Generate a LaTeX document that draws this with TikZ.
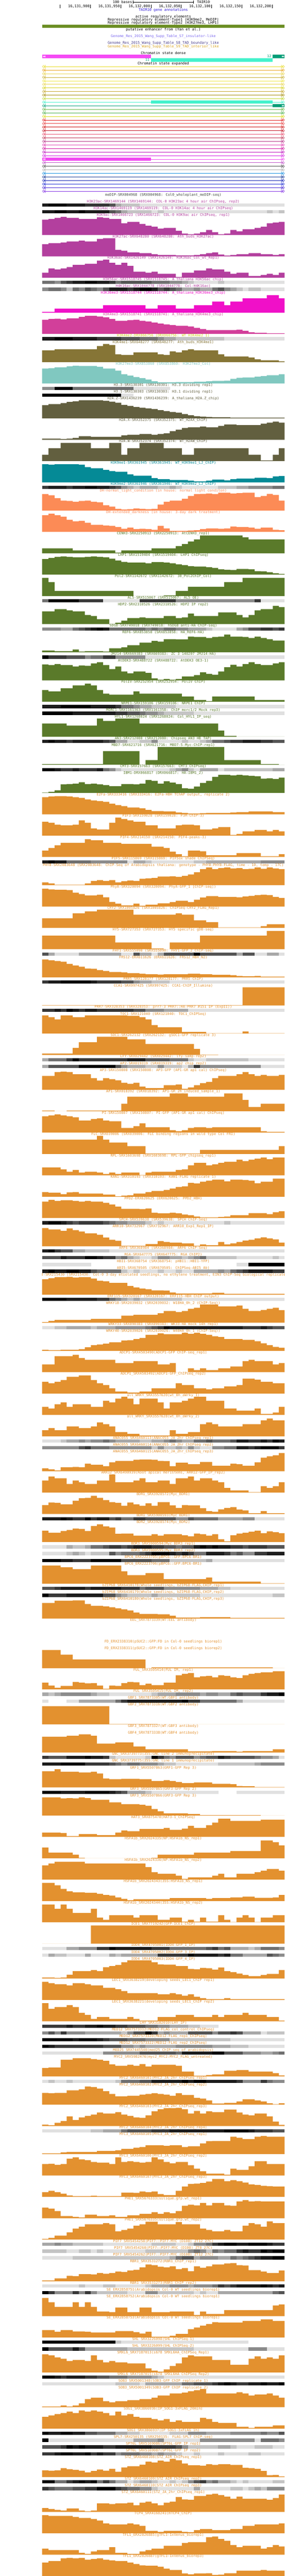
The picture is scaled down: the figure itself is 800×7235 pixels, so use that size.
\documentclass[tikz,border=0pt]{standalone}
\usepackage{fontspec}
\newfontfamily\ucsc{DejaVu Sans Mono}
\definecolor{cAC}{HTML}{B33F9E}
\definecolor{cKtsm}{HTML}{F010C8}
\definecolor{cKfmt}{HTML}{D23F9A}
\definecolor{cKfmw}{HTML}{D2CE1E}
\definecolor{cKfmo}{HTML}{867536}
\definecolor{cKts}{HTML}{80C8C0}
\definecolor{cHV}{HTML}{625F3F}
\definecolor{cKnine}{HTML}{058A96}
\definecolor{cDH}{HTML}{FC8B56}
\definecolor{cGR}{HTML}{5A7A2A}
\definecolor{cOR}{HTML}{E3912F}
\definecolor{cME}{HTML}{404840}
\definecolor{cTAIR}{HTML}{2A14D6}
\definecolor{cSseven}{HTML}{7B68EE}
\definecolor{cSeight}{HTML}{483D8B}
\definecolor{cSnine}{HTML}{DAA520}
\definecolor{cOlive}{HTML}{6B8E23}
\definecolor{cPink}{HTML}{F54AF5}
\definecolor{cAqua}{HTML}{44F2CC}
\definecolor{cTeal}{HTML}{009E78}
\definecolor{dg1}{HTML}{E0E0E0}
\definecolor{dg2}{HTML}{C4C4C4}
\definecolor{dg3}{HTML}{A8A8A8}
\definecolor{dg4}{HTML}{8C8C8C}
\definecolor{dg5}{HTML}{707070}
\definecolor{dg6}{HTML}{545454}
\definecolor{dg7}{HTML}{383838}
\definecolor{dg8}{HTML}{1C1C1C}
\definecolor{dg9}{HTML}{000000}
\definecolor{ch1}{HTML}{E8DC28}
\definecolor{ch2}{HTML}{E8A21E}
\definecolor{ch3}{HTML}{E8D44A}
\definecolor{ch4}{HTML}{C8AE30}
\definecolor{ch5}{HTML}{EEE646}
\definecolor{ch6}{HTML}{E8D64E}
\definecolor{ch7}{HTML}{D6D21E}
\definecolor{ch8}{HTML}{C6A62A}
\definecolor{ch9}{HTML}{A68E10}
\definecolor{ch10}{HTML}{C2D836}
\definecolor{ch11}{HTML}{44F2CC}
\definecolor{ch12}{HTML}{009E78}
\definecolor{ch13}{HTML}{6CBA4C}
\definecolor{ch14}{HTML}{4CB04C}
\definecolor{ch15}{HTML}{D8D814}
\definecolor{ch16}{HTML}{E01E1E}
\definecolor{ch17}{HTML}{E84444}
\definecolor{ch18}{HTML}{D01414}
\definecolor{ch19}{HTML}{C41424}
\definecolor{ch20}{HTML}{E85070}
\definecolor{ch21}{HTML}{C03454}
\definecolor{ch22}{HTML}{B83488}
\definecolor{ch23}{HTML}{E040B4}
\definecolor{ch24}{HTML}{D010A0}
\definecolor{ch25}{HTML}{C014C0}
\definecolor{ch26}{HTML}{D426E4}
\definecolor{ch27}{HTML}{F24AF2}
\definecolor{ch28}{HTML}{C050C8}
\definecolor{ch29}{HTML}{505050}
\definecolor{ch30}{HTML}{B0B0B0}
\definecolor{ch31}{HTML}{1890E0}
\definecolor{ch32}{HTML}{103494}
\definecolor{ch33}{HTML}{1424B4}
\definecolor{ch34}{HTML}{2030D4}
\definecolor{ch35}{HTML}{4424D4}
\definecolor{ch36}{HTML}{8434E4}
\pgfmathdeclarefunction{ex}{1}{\pgfmathparse{min(799,118+18.2*min(#1,1)+17.02*max(#1-1,0))}}
\newcount\ypos
\tikzset{lab/.style={font=\ucsc\fontsize{9.97}{10}\selectfont, inner sep=0pt, anchor=base}}
\newcommand\GT[3]{%
 \node[lab,text=#2] at (458.5,\the\ypos+3.6) {#1};%
 \fill[#2] (118,\the\ypos+56) \foreach \h [count=\j from 0] in {#3} {-- ({ex(\j)},\the\ypos+56-\h) -- ({ex(\j+1)},\the\ypos+56-\h)} -- (799,\the\ypos+56) -- cycle;%
 \global\advance\ypos by 60\relax}
\newcommand\DT[3]{%
 \node[lab,text=#2] at (458.5,\the\ypos+3.6) {#1};%
 \foreach \g [count=\j from 0] in {#3} {\ifnum\g>0 \fill[dg\g] ({ex(\j)},\the\ypos+5) rectangle ({ex(\j+1)+0.3},\the\ypos+14);\fi}%
 \global\advance\ypos by 19\relax}
\newcommand\ET[3]{%
 \node[lab,text=#2] at (458.5,\the\ypos+3.6) {#1};%
 \global\advance\ypos by #3\relax}
\catcode`\_=12
\begin{document}
\begin{tikzpicture}[x=1pt,y=-1pt]
\useasboundingbox (0,0) rectangle (800,7235);
\fill[white] (0,0) rectangle (800,7235);
\clip (118,0) rectangle (800,7235);
% scale row
\node[lab,anchor=base east] at (371,9.6) {100 bases};
\draw[line width=1pt] (374,6) -- (543,6) (374,2) -- (374,10.5) (543,2) -- (543,10.5);
\node[lab,anchor=base west] at (553,9.6) {TAIR10};
% coordinates
\foreach \x in {169,254,339,424,509,594,679,764} {\draw[line width=1pt] (\x,13.5) -- (\x,22.5);}
\foreach \x/\t in {254/{16,131,900},339/{16,131,950},424/{16,132,000},509/{16,132,050},594/{16,132,100},679/{16,132,150},764/{16,132,200}} {\node[lab,anchor=base east] at (\x-2.5,21.6) {\t};}
\node[lab,text=cTAIR] at (458.5,30.6) {TAIR10 gene annotations};
\node[lab] at (458.5,49.6) {active regulatory elements};
\node[lab] at (458.5,58.3) {Repressive regulatory element-Type1 (H3K9me2, MeDIP)};
\node[lab] at (458.5,67.3) {Repressive regulatory element-Type2 (H3K27me3, LHP1)};
\fill[cOlive] (118,69) rectangle (799,78);
\node[lab] at (458.5,86.6) {putative enhancer from (Yan et al.)};
\node[lab,text=cSseven] at (458.5,105.3) {Genome_Res_2015_Wang_Supp_Table_S7_insulator-like};
\node[lab,text=cSeight] at (458.5,124.3) {Genome_Res_2015_Wang_Supp_Table_S8_TAD_boundary_like};
\node[lab,text=cSnine] at (458.5,133.6) {Genome_Res_2015_Wang_Supp_Table_S9_TAD_interior_like};
\node[lab] at (458.5,152.6) {Chromatin state dense};
\fill[cPink] (118,154) rectangle (424,163);
\fill[cTeal] (765,154) rectangle (799,163);
\fill[cAqua] (424,164) rectangle (765,173);
\node[lab,text=cTeal,anchor=base east] at (762,162) {12};
\node[lab,text=cTeal,anchor=base east] at (420,172) {11};
\fill[white] (123.5,156) -- (120.5,158.5) -- (123.5,161) -- cycle (127,156) -- (124,158.5) -- (127,161) -- cycle;
\fill[white] (791.5,156) -- (794.5,158.5) -- (791.5,161) -- cycle (795,156) -- (798,158.5) -- (795,161) -- cycle;
\node[lab] at (458.5,181.6) {Chromatin state expanded};
% expanded lines
\foreach \k in {1,...,36} {
 \pgfmathsetmacro\yy{177+10*\k}
 \draw[ch\k, line width=1pt] (124,\yy) -- (794,\yy);
 \draw[ch\k, line width=0.7pt] (123,\yy-4) -- (118.6,\yy) -- (123,\yy+4) -- cycle (127.5,\yy-4) -- (123.1,\yy) -- (127.5,\yy+4) -- cycle;
 \draw[ch\k, line width=0.7pt] (794.5,\yy-4) -- (798.9,\yy) -- (794.5,\yy+4) -- cycle (790,\yy-4) -- (794.4,\yy) -- (790,\yy+4) -- cycle;
}
\fill[ch11] (424,282.5) rectangle (765,291.5);
\fill[ch12] (765,292.5) rectangle (799,301.5);
\fill[white] (791.5,294.5) -- (794.5,297) -- (791.5,299.5) -- cycle (795,294.5) -- (798,297) -- (795,299.5) -- cycle;
\fill[ch27] (118,442.5) rectangle (424,451.5);
\fill[white] (123.5,444.5) -- (120.5,447) -- (123.5,449.5) -- cycle (127,444.5) -- (124,447) -- (127,449.5) -- cycle;
% tracks
\global\ypos=547
\ET{meDIP-SRX004968 (SRX004968: Col0_wholeplant_meDIP-seq)}{cME}{19}
\DT{H3K23ac-SRX1469144 (SRX1469144: COL-0 H3K23ac 4 hour air ChIPseq, rep2)}{cAC}{8,9,9,9,8,8,8,7,7,7,7,6,3,2,2,2,1,1,1,1,1,1,1,1,1,1,1,1,1,1,1,1,1,1,1,1,1,1,1,1}
\DT{H3K14ac-SRX1469119 (SRX1469119: COL-0 H3K14ac 4 hour air ChIPseq)}{cAC}{8,8,9,9,8,8,9,8,8,8,8,6,5,3,2,2,2,2,1,2,1,1,1,1,1,1,1,1,1,1,1,1,1,1,1,1,1,2,1,2}
\GT{H3K9ac-SRX1466723 (SRX1466723: COL-0 H3K9ac air ChIPseq, rep1)}{cAC}{43,45,48,51,48,48,45,45,45,50,48,45,45,33,37,37,31,26,23,18,20,20,12,4,2,4,8,14,8,2,4,14,10,16,16,20,23,33,35,37}
\GT{H3K27ac-SRX648280 (SRX648280: Ath_buds_H3K27ac)}{cAC}{34,37,37,39,42,42,44,42,42,49,51,51,18,16,11,11,9,9,6,4,4,4,3,3,3,4,6,9,11,5,2,4,6,6,9,9,6,6,4,6}
\GT{H3K36ac-SRX1426149 (SRX1426149: H3K36ac_Col_wt_Rep1)}{cAC}{14,26,23,26,30,36,36,39,39,48,51,42,36,42,33,17,17,14,17,11,11,11,2,14,14,20,20,26,23,23,17,11,14,14,5,5,8,11,8,14}
\DT{H3K56ac-SRX1518745 (SRX1518745: A_thaliana_H3K56ac_chip)}{cAC}{5,5,4,6,7,8,8,9,9,8,8,7,5,6,6,6,6,6,5,5,5,4,4,3,2,1,1,1,1,2,1,1,1,1,1,1,1,1,1,1}
\DT{H4K16ac-SRX1044778 (SRX1044778: Col-H4K16ac)}{cAC}{4,5,5,4,2,5,4,6,5,4,6,8,8,8,7,8,9,9,8,6,7,6,5,3,3,4,3,3,5,6,4,3,2,1,2,2,1,1,1,1}
\GT{H3K36me3-SRX1518744 (SRX1518744: A_thaliana_H3K36me3_chip)}{cKtsm}{2,2,11,11,11,11,11,11,11,11,21,21,21,21,21,21,21,11,11,21,21,21,11,11,11,21,21,21,31,31,21,31,31,40,40,40,40,49,49,40}
\GT{H3K4me3-SRX1518741 (SRX1518741: A_thaliana_H3K4me3_chip)}{cKfmt}{40,42,43,41,44,44,48,51,51,49,47,42,37,37,39,40,37,35,32,29,27,25,23,23,21,17,14,11,11,11,11,11,12,9,5,3,3,2,2,2}
\DT{H3K4me2-DRX066756 (DRX066756: WT_H3K4me2_1)}{cKfmw}{8,8,9,9,9,8,8,8,8,7,7,7,7,6,6,6,5,5,5,4,3,3,2,2,2,2,2,2,2,2,1,1,1,1,1,1,1,1,1,1}
\GT{H3K4me1-SRX648277 (SRX648277: Ath_buds_H3K4me1)}{cKfmo}{33,33,36,36,36,36,36,36,36,45,51,48,22,20,20,27,27,27,27,22,20,30,27,33,36,33,33,33,33,22,16,16,16,16,13,8,5,5,5,2}
\GT{H3K27me3-SRX853860 (SRX853860: H3K27me3_Col)}{cKts}{42,43,45,45,48,50,49,49,49,47,42,42,36,26,22,18,15,11,6,3,3,3,4,4,4,5,5,6,7,7,8,13,16,17,17,19,21,23,23,26}
\DT{H3.3-SRX130301 (SRX130301: H3.3 dividing rep1)}{cHV}{4,4,9,9,9,5,5,5,5,5,5,5,5,5,5,1,1,1,1,1,1,0,0,0,0,0,0,0,0,0,0,0,0,0,0,0,0,0,0,0}
\DT{H3.1-SRX130303 (SRX130303: H3.1 dividing rep1)}{cHV}{9,9,9,9,9,9,9,9,9,9,9,9,9,1,1,0,0,0,0,0,0,0,0,0,0,0,0,0,0,0,0,0,0,0,0,0,0,0,0,0}
\GT{H2A.Z-SRX1436239 (SRX1436239: A_thaliana_H2A.Z_chip)}{cHV}{37,40,40,43,46,48,51,51,51,51,49,47,44,38,35,32,30,28,26,23,20,18,16,12,9,6,5,4,3,3,3,2,2,2,2,2,2,2,2,2}
\GT{H2A.X-SRX352375 (SRX352375: WT_H2AX_ChIP)}{cHV}{3,3,3,2,3,5,10,10,8,8,8,8,8,12,14,14,16,16,14,16,18,24,28,33,35,35,37,35,35,39,43,43,41,41,41,41,45,48,51,48}
\GT{H2A.W-SRX352374 (SRX352374: WT_H2AW_ChIP)}{cHV}{18,36,36,51,51,51,51,51,36,36,36,51,51,18,36,36,51,51,51,51,36,36,36,18,18,36,36,36,36,36,36,36,36,36,18,18,2,2,18,36}
\GT{H3K9me1-SRX361945 (SRX361945: WT_H3K9me1_LJ_ChIP)}{cKnine}{51,50,51,51,51,51,50,43,40,40,35,32,30,30,23,19,19,19,12,9,9,7,7,7,5,3,3,5,8,8,6,9,11,11,11,13,13,12,17,18}
\DT{H3K9me2-SRX361946 (SRX361946: WT_H3K9me2_LJ_ChIP)}{cKnine}{7,8,8,8,7,8,8,9,9,8,8,7,6,4,3,2,3,3,3,2,2,3,2,1,1,1,1,1,1,2,2,2,3,3,4,4,4,4,5,5}
\GT{DH-normal_light_condition (in house: normal light conditon)}{cDH}{46,43,35,28,27,25,27,28,25,23,15,11,5,3,4,6,5,4,5,17,25,28,28,33,41,46,47,48,46,50,50,48,49,50,50,38,41,47,44,28}
\GT{DH-extended_darkness (in house: 3-day dark treatment)}{cDH}{47,51,47,43,34,30,31,26,20,20,18,17,14,9,12,8,9,8,6,17,10,3,3,3,4,5,8,10,10,9,10,15,14,14,12,9,12,12,6,5}
\GT{CENH3-SRX2250913 (SRX2250913: AtCENH3_rep1)}{cGR}{14,14,14,14,14,8,8,8,8,8,8,8,2,8,8,8,8,8,14,14,14,14,20,26,33,39,50,50,50,50,50,50,50,45,39,39,39,39,39,39}
\GT{LHP1-SRX1519404 (SRX1519404: LHP1 ChIPseq)}{cGR}{44,47,50,51,50,49,49,50,51,50,49,45,40,36,34,34,34,32,35,35,34,32,29,27,24,23,23,21,19,15,14,13,16,16,15,10,9,7,4,2}
\GT{Pol2-SRX1142672 (SRX1142672: 30_Pol2ChIP_Col)}{cGR}{51,39,14,14,14,14,14,14,14,14,14,14,14,14,14,0,0,0,0,0,2,2,14,14,26,26,26,26,26,26,39,39,39,51,51,51,51,51,51,51}
\DT{AL5-SRX515067 (SRX515067: AL5_OE)}{cGR}{5,9,9,9,9,9,7,7,7,7,1,1,1,1,1,1,7,7,7,7,7,7,4,4,4,4,4,4,4,4,4,4,4,4,4,7,1,1,1,1}
\GT{HDP2-SRX2310526 (SRX2310526: HDP2 IP rep2)}{cGR}{36,36,42,42,39,36,36,26,23,14,14,1,4,10,17,17,19,17,17,17,23,23,17,19,30,23,23,23,23,33,33,33,26,19,26,39,42,42,51,48}
\DT{SDG8-SRX749018 (SRX749018: hSDG8 anti-HA ChIP-seq)}{cGR}{4,4,4,3,3,5,6,7,8,9,8,5,5,5,5,5,5,4,5,4,5,5,4,4,3,3,3,2,1,1,1,1,3,4,6,6,7,7,6,7}
\GT{REF6-SRX853858 (SRX853858: HA_REF6-HA)}{cGR}{5,5,3,3,3,8,2,3,3,3,2,11,11,14,20,20,27,27,32,30,37,37,36,36,44,43,43,40,43,44,50,44,44,43,40,44,40,37,33,33}
\DT{JMJ14-SRX669383 (SRX669383: ZC_3_140207 JMJ14-HA)}{cGR}{9,7,7,7,6,6,6,4,5,5,7,7,4,4,4,4,4,1,1,1,1,1,1,1,1,1,1,1,1,1,1,1,1,1,1,1,1,1,1,1}
\GT{AtDEK3-SRX488722 (SRX488722: AtDEK3 OE3-1)}{cGR}{45,43,46,43,43,39,42,41,48,51,43,32,39,25,20,25,25,21,6,2,4,2,4,11,11,15,23,18,16,25,37,44,39,46,51,46,43,43,48,51}
\GT{PolIV-SRX252954 (SRX252954: PolIV ChIP)}{cGR}{33,29,29,38,38,46,46,51,46,33,23,20,20,20,20,29,23,23,23,23,23,23,23,15,15,5,5,2,15,15,15,15,15,15,15,5,5,5,5,5}
\DT{NRPE1-SRX159106 (SRX159106: NRPE1 ChIP)}{cGR}{8,8,8,9,9,9,9,9,8,8,8,8,7,5,5,4,3,3,2,2,2,2,1,1,1,1,1,1,1,1,1,1,1,1,1,1,1,1,1,1}
\DT{MORC1-SRX1161363 (SRX1161358: ChIP_morc1/2_Mock_rep3)}{cGR}{9,9,9,9,9,8,8,8,8,8,8,8,7,7,6,6,5,4,4,3,2,2,2,2,2,1,1,1,1,1,1,1,1,1,1,1,1,1,1,1}
\GT{HYL1-SRX1268024 (SRX1268024: Col_HYL1_IP_seq)}{cGR}{37,37,37,37,31,31,31,31,31,51,44,44,51,51,51,51,37,37,37,37,37,37,37,37,37,37,37,37,37,17,2,2,0,0,0,0,0,0,0,0}
\DT{AN3-SRX212080 (SRX212080: Chipseq AN3 HB TAP)}{cGR}{8,9,8,8,7,8,8,8,8,8,7,6,3,3,1,1,2,2,4,1,1,1,1,2,1,1,2,3,5,5,6,7,7,8,8,8,7,7,6,6}
\GT{MBD7-SRX621716 (SRX621716: MBD7-5-Myc-ChIP-rep1)}{cGR}{2,2,2,2,2,2,2,2,2,2,38,38,38,38,38,38,0,13,13,50,50,50,50,50,50,50,50,50,50,50,13,13,13,13,13,13,2,2,2,0}
\DT{CMT3-SRX157663 (SRX157663: CMT3_ChIPseq)}{cGR}{9,9,8,7,7,8,7,7,7,8,5,4,2,1,1,1,1,1,1,1,1,2,3,4,2,1,3,3,3,1,2,2,2,2,2,2,2,2,3,3}
\GT{IBM1-DRX066817 (DRX066817: HA-IBM1_2)}{cGR}{1,3,7,24,25,26,30,25,26,24,22,19,19,25,25,24,26,36,34,26,33,29,25,13,12,18,28,34,45,51,51,49,51,49,48,47,40,41,39,43}
\GT{E2Fa-SRX333416 (SRX333416: E2Fa-HBH TChAP output, replicate 2)}{cOR}{48,50,51,51,50,48,46,42,39,37,35,30,26,23,19,19,17,12,9,9,8,8,5,4,2,2,3,4,4,4,4,5,6,6,8,8,8,8,6,6}
\GT{PIF3-SRX159028 (SRX159028: P3M-ChIP-3)}{cOR}{39,36,31,29,29,31,43,36,20,17,17,36,51,47,43,39,39,29,29,20,20,20,29,31,31,29,17,17,20,24,24,2,5,12,12,16,16,12,16,12}
\GT{PIF4-SRX214150 (SRX214150: PIF4-peaks-3)}{cOR}{18,25,33,40,40,40,40,50,47,47,40,40,40,37,37,37,37,37,29,29,25,15,8,2,18,18,16,5,5,5,5,5,11,11,11,11,2,2,2,8}
\DT{PIF5-SRX115869 (SRX115869: PIF5ox shade ChIPSeq)}{cOR}{8,9,8,8,5,5,5,5,4,4,4,4,4,4,1,3,3,2,1,1,1,1,1,1,1,2,2,3,3,3,3,3,3,3,3,3,4,4,4,4}
\GT{PHYB-SRX2083648 (SRX2083648: ChIP-Seq of Arabidopsis thaliana: genotype - PHYB:PHYB-FLAG, time - 10, temp - 17C)}{cOR}{8,5,1,1,1,1,1,5,12,14,12,14,8,11,13,12,18,19,20,24,24,25,23,26,30,36,45,50,45,48,50,47,48,45,46,50,46,50,47,45}
\GT{PhyA-SRX320094 (SRX320094: PhyA-GFP_1 [ChIP-seq])}{cOR}{50,48,47,47,46,39,35,31,31,33,26,13,8,3,3,8,2,5,5,9,9,12,16,16,12,19,25,29,29,27,27,27,26,28,30,32,33,32,27,24}
\GT{CRY2-SRX1005826 (SRX1005826: ChIPSeq-CRY2_FLAG_Rep1)}{cOR}{27,27,27,27,27,41,41,46,46,51,51,51,51,51,51,37,37,37,37,37,37,37,41,37,37,21,21,16,16,1,1,1,1,1,1,1,5,10,10,10}
\GT{HY5-SRX727353 (SRX727353: HY5 specific gDB-seq)}{cOR}{38,38,38,38,38,38,38,38,38,38,38,38,19,19,19,19,19,19,2,2,0,19,19,19,19,19,38,38,38,38,38,38,38,38,38,38,38,51,51,51}
\DT{FHY1-SRX555090 (SRX555090: FHY1-GFP_2_ChIP-seq)}{cOR}{6,3,1,1,1,1,3,3,3,3,3,3,3,1,1,6,3,3,1,3,6,6,6,6,6,9,6,6,6,6,6,6,3,6,6,1,1,3,3,1}
\GT{FRS12-ERX611626 (ERX611626: FRS12_HBH_N2)}{cOR}{50,48,46,44,38,33,30,25,24,20,18,15,15,14,12,12,10,9,9,8,9,9,9,9,10,10,9,9,7,7,7,6,4,3,3,4,2,2,2,2}
\DT{PRR5-SRX128177 (SRX128177: PRR5-ChIP)}{cOR}{7,8,8,9,9,9,9,9,8,7,7,7,7,6,6,4,3,3,2,2,2,1,1,1,1,1,1,1,1,1,1,1,1,1,1,1,1,1,1,1}
\GT{CCA1-SRX997425 (SRX997425: CCA1-ChIP_Illumina)}{cOR}{1,1,1,1,1,1,1,1,1,1,1,1,1,1,1,1,1,1,1,1,1,1,1,1,1,1,1,1,1,1,1,1,1,51,51,51,51,51,51,51}
\DT{PRR7-SRX328353 (SRX328353: prr7-3 PRR7::HA-PRR7 \#151 IP (ExpII))}{cOR}{7,7,8,7,9,8,7,8,8,7,7,7,7,7,7,6,6,4,4,4,3,3,3,3,1,1,1,1,1,1,1,1,1,1,1,1,1,1,1,1}
\GT{TOC1-SRX121040 (SRX121040: TOC1_ChIPSeq)}{cOR}{51,46,40,51,51,46,46,51,51,51,51,51,51,51,50,50,46,40,24,18,18,18,18,5,5,5,5,1,1,1,1,1,1,6,1,1,1,1,1,1}
\GT{SOC1-SRX262132 (SRX262132: gSOC1-GFP replicate 3)}{cOR}{4,4,4,4,4,20,36,36,36,51,51,51,51,51,44,44,44,31,31,31,31,31,31,31,31,17,1,1,1,0,0,0,0,0,0,0,0,0,0,0}
\DT{LFY-SRX029442 (SRX029442: lfy-samp-rep2)}{cOR}{3,5,5,5,7,9,7,7,7,7,7,7,7,7,8,8,8,6,6,6,6,5,5,5,2,1,1,2,2,2,2,2,2,2,1,1,1,1,1,1}
\DT{AP2-SRX019319 (SRX019319: ap2_chip_rep2)}{cOR}{3,6,6,6,6,6,9,9,9,9,9,9,6,4,3,3,3,2,2,4,2,2,2,1,3,7,4,4,4,4,4,4,4,4,4,4,1,1,1,1}
\GT{AP3-SRX150808 (SRX150808: AP3-GFP (AP1-GR ap1 cal) ChIPseq)}{cOR}{39,39,50,51,50,44,44,44,33,26,33,30,27,20,17,20,9,5,5,5,13,13,15,3,7,13,19,22,33,39,39,39,44,50,44,39,42,39,39,42}
\GT{AP1-SRX018392 (SRX018392: AP1-GR_2h_induced_sample_1)}{cOR}{2,2,0,0,2,2,2,2,2,2,2,2,2,21,41,41,41,41,41,41,41,50,50,50,41,41,41,41,41,41,50,50,50,32,12,12,21,21,21,21}
\GT{PI-SRX150807 (SRX150807: PI-GFP (AP1-GR ap1 cal) ChIPseq)}{cOR}{46,48,51,48,46,43,34,34,38,40,34,32,32,13,13,18,26,15,15,15,15,7,4,7,13,15,15,13,15,15,15,15,15,15,15,15,4,2,2,2}
\GT{FLC-SRX039006 (SRX039006: FLC binding regions in wild type Col FRI)}{cOR}{40,40,40,40,40,40,40,40,40,51,40,32,32,32,22,22,22,1,1,1,1,1,1,1,1,1,11,11,11,11,11,11,11,11,11,11,11,11,11,22}
\GT{RPL-SRX1603698 (SRX1603698: RPL-GFP_chipseq_rep1)}{cOR}{22,22,22,17,10,15,8,10,10,8,4,8,4,8,8,8,1,8,10,10,10,10,15,17,28,35,35,28,31,35,38,38,44,40,44,47,50,45,50,50}
\GT{KAN1-SRX310193 (SRX310193: KAN1-FLAG replicate 1)}{cOR}{13,11,11,7,12,13,9,9,9,9,6,6,1,3,4,9,9,13,16,16,19,23,27,29,39,37,42,45,48,48,43,48,48,47,45,38,42,42,51,51}
\GT{PPD2-ERX620625 (ERX620625: PPD2_HBH)}{cOR}{46,51,48,50,50,48,46,48,46,46,43,38,32,26,26,26,25,27,15,13,13,15,13,10,8,4,2,2,2,3,4,8,8,8,14,14,14,11,16,19}
\DT{SPCH-SRX539638 (SRX539638: SPCH ChIP-Seq)}{cOR}{8,9,9,8,7,6,7,7,7,7,6,5,4,4,3,3,3,2,1,2,1,1,1,1,1,1,1,1,1,1,2,1,1,1,1,1,1,1,1,1}
\GT{ARR10-SRX732967 (SRX732967: ARR10_Exp1_Rep1_IP)}{cOR}{51,47,47,43,50,45,41,36,36,32,24,18,15,1,1,1,1,6,6,14,12,10,10,8,8,1,5,3,3,12,5,8,12,16,18,22,25,22,19,10}
\DT{ARF6-SRX368984 (SRX368984: ARF6 ChIP-Seq)}{cOR}{8,9,7,6,6,3,3,2,2,2,2,1,1,1,1,1,1,1,1,1,1,1,1,1,1,1,1,1,1,1,1,1,1,1,1,1,1,1,1,1}
\DT{RGA-SRX647775 (SRX647775: RGA_ChIP2)}{cOR}{6,6,6,8,7,7,7,9,9,8,7,7,4,5,3,2,1,1,2,4,4,3,3,2,3,4,5,2,2,2,2,2,1,1,1,1,1,1,2,1}
\DT{HBI1-SRX368754 (SRX368754: pHBI1::HBI1-YFP)}{cOR}{1,1,1,1,1,1,1,1,0,0,0,0,0,0,0,0,0,0,0,0,0,0,0,0,0,0,0,0,0,0,0,0,1,1,9,9,9,9,9,9}
\DT{ABI5-SRX670505 (SRX670505: ChIPSeq-ABI5_Ab)}{cOR}{8,9,8,8,9,9,8,8,6,5,5,5,5,2,1,2,1,1,1,2,1,1,2,1,1,3,3,3,3,4,3,5,6,7,8,8,8,8,7,7}
\GT{EIN3-SRX215430 (SRX215430: Col-0 3-day etiolated seedlings, no ethylene treatment, EIN3 ChIP-Seq biological replicate 1)}{cOR}{43,46,49,49,50,48,49,49,45,39,37,33,33,33,24,20,17,15,12,12,11,6,3,3,3,3,3,3,5,5,2,2,2,2,2,2,2,2,2,2}
\DT{ERF115-SRX320167 (SRX320167: ERF115-HBH ChIP output)}{cOR}{9,9,9,9,8,8,8,8,8,7,7,5,4,3,2,3,2,2,2,2,2,2,2,1,1,1,1,1,1,1,1,1,1,1,1,1,1,1,1,1}
\GT{WRKY18-SRX2039032 (SRX2039032: W18HA_0h_2 (ChIP-Seq))}{cOR}{2,5,8,8,8,8,8,8,11,11,11,11,11,20,20,22,22,22,22,27,33,33,30,33,39,42,51,51,51,46,46,46,48,39,33,33,36,39,42,35}
\DT{WRKY33-SRX890383 (SRX890383: WK33-HA mock 14h rep1)}{cOR}{1,1,2,2,3,3,3,3,2,3,3,3,4,4,4,4,4,5,6,7,9,8,8,8,8,8,8,8,8,8,8,8,8,7,7,7,8,7,6,6}
\GT{WRKY40-SRX2039026 (SRX2039026: W40HA_0h_1 (ChIP-Seq))}{cOR}{3,2,2,3,3,3,5,10,16,18,20,24,24,29,30,33,36,45,45,49,47,47,47,51,48,51,48,45,41,39,33,33,33,31,31,27,21,16,11,9}
\GT{ADCP1-SRX4503490(ADCP1-GFP ChIP-seq_rep1)}{cOR}{22,22,45,45,45,49,40,35,35,35,35,35,26,26,26,31,31,31,31,22,22,26,0,0,11,6,11,6,6,11,11,16,16,31,35,31,31,31,22,26}
\GT{ADCP1_SRX4503492(ADCP1-GFP_ChIPseq_rep2)}{cOR}{33,29,33,38,47,47,51,51,38,29,24,15,6,6,3,3,6,6,15,15,15,15,29,24,24,15,15,12,15,15,20,20,24,42,42,39,33,33,29,29}
\GT{all_WRKY_SRX3557620(wt_0h_aWrky_1)}{cOR}{23,18,30,35,23,30,30,30,23,23,40,35,46,51,46,30,46,46,46,35,18,35,35,40,46,51,51,40,40,40,18,18,12,12,12,18,3,3,7,23}
\GT{all_WRKY_SRX3557628(wt_0h_aWrky_2)}{cOR}{17,23,17,17,28,28,23,23,28,39,34,28,12,12,7,7,2,2,2,2,2,17,7,7,12,12,34,39,34,28,28,28,28,34,34,34,45,50,45,45}
\DT{ANAC055_SRX6460113(ANAC055_JA_2hr_ChIPseq_rep1)}{cOR}{1,1,1,2,3,3,4,3,4,4,5,4,3,3,3,3,2,2,3,3,4,5,4,3,3,5,5,6,5,5,5,6,8,8,7,7,8,7,9,8}
\DT{ANAC055_SRX6460114(ANAC055_JA_2hr_ChIPseq_rep2)}{cOR}{4,4,4,4,4,4,6,7,5,5,5,4,4,4,4,4,4,4,2,4,2,2,3,2,4,2,1,1,4,4,5,5,8,8,7,8,9,9,9,7}
\GT{ANAC055_SRX6460115(ANAC055_JA_2hr_ChIPseq_rep3)}{cOR}{8,5,2,11,11,12,11,21,18,18,14,25,29,29,29,32,33,33,32,29,28,14,24,24,20,20,26,26,15,15,15,21,20,15,15,25,38,42,45,51}
\GT{ARR12_SRX6490939(Root apical meristems, ARR12-GFP_IP_rep2)}{cOR}{34,45,40,40,24,34,29,24,24,34,34,51,29,29,29,34,40,29,29,34,34,24,40,40,45,34,40,40,34,29,13,6,6,6,1,1,18,13,18,29}
\GT{BDR1_SRX3928572(Myc_BDR1)}{cOR}{25,32,31,27,27,37,44,45,51,45,39,33,31,23,32,27,23,30,23,33,33,24,17,25,24,24,16,8,6,13,17,19,12,10,2,2,8,2,2,2}
\DT{BDR1_SRX5900593(Myc BDR1)}{cOR}{8,8,8,9,8,7,7,9,7,8,8,6,7,5,5,7,7,6,6,6,6,6,4,4,6,5,5,5,5,3,3,3,3,4,4,1,1,1,1,1}
\GT{BDR2_SRX3928574(Myc_BDR2)}{cOR}{32,26,26,31,34,38,37,31,45,50,44,41,23,24,24,18,18,18,22,18,22,22,22,19,16,24,22,18,22,8,2,19,24,26,29,32,25,30,28,25}
\DT{BDR3_SRX5900594(Myc BDR3 rep1)}{cOR}{1,1,1,1,3,2,2,3,5,5,6,7,7,6,7,8,8,8,7,7,6,6,5,6,6,8,9,8,9,8,8,7,7,6,7,7,7,6,6,6}
\DT{BDR3_SRX5900595(Myc BDR3 rep2)}{cOR}{1,1,1,1,2,3,2,1,2,2,2,6,4,5,5,5,6,7,9,9,9,8,7,8,7,5,5,8,8,8,7,5,6,4,4,7,7,8,8,8}
\DT{BPC6_ERX2223705(pBPC6::GFP:BPC6-BR1)}{cOR}{9,9,9,8,8,7,7,7,9,9,9,9,9,6,6,6,6,6,5,5,5,2,2,2,2,2,2,3,1,1,1,1,1,1,1,1,1,1,1,1}
\GT{BPC6_ERX2223706(pBPC6::GFP:BPC6-BR1)}{cOR}{51,51,51,46,46,41,41,41,51,51,51,51,51,35,24,24,24,30,30,30,13,13,13,13,13,13,13,17,6,6,6,6,6,6,6,6,1,1,1,1}
\DT{bZIP68_SRX6410178(Whole seedlings, bZIP68-FLAG,CHIP,rep1)}{cOR}{6,6,7,8,8,8,8,7,8,8,8,8,8,7,7,7,5,6,6,6,4,4,4,4,4,4,3,3,3,2,2,1,1,1,1,1,1,1,1,1}
\DT{bZIP68_SRX6410179(Whole seedlings, bZIP68-FLAG,CHIP,rep2)}{cOR}{9,7,7,7,8,8,8,8,8,8,6,6,4,3,2,2,2,2,3,2,2,2,2,2,2,2,1,1,1,1,1,1,1,1,1,1,1,1,2,2}
\GT{bZIP68_SRX6410180(Whole seedlings, bZIP68-FLAG,CHIP,rep3)}{cOR}{44,44,50,50,50,51,51,41,36,36,34,32,29,26,23,17,13,13,13,12,12,8,3,3,3,3,4,4,4,4,4,2,2,2,2,2,2,2,2,2}
\ET{EEL_SRX7873339(WT:EEL antibody)}{cOR}{60}
\ET{FD_ERX2338310(pSUC2::GFP:FD in Col-0 seedlings biorep1)}{cOR}{19}
\GT{FD_ERX2338311(pSUC2::GFP:FD in Col-0 seedlings biorep2)}{cOR}{51,51,51,38,38,24,24,24,24,24,24,24,24,24,24,24,24,0,2,2,2,2,2,2,2,2,2,2,2,2,2,2,2,2,2,2,2,2,0,0}
\GT{FUL_SRX3505414(FUL IM, rep1)}{cOR}{19,11,5,10,10,21,19,17,18,11,2,11,10,18,21,20,12,16,12,12,19,19,40,44,46,34,37,38,34,40,38,34,32,40,44,46,48,48,51,51}
\DT{FUL_SRX3505415(FUL IM, rep2)}{cOR}{3,2,3,4,4,4,4,4,3,2,2,1,1,1,1,1,1,1,2,3,3,3,4,4,4,4,3,4,4,3,3,5,6,5,5,5,7,8,8,9}
\DT{GBF1_SRX7873305(WT:GBF1 antibody)}{cOR}{1,0,0,0,1,1,3,3,3,3,3,3,5,7,8,8,8,8,8,8,8,8,8,9,7,7,5,5,5,5,5,5,3,1,1,1,1,1,1,1}
\GT{GBF2_SRX7873316(WT:GBF2 antibody)}{cOR}{51,51,51,51,51,51,51,51,51,51,51,1,1,1,1,1,1,1,1,0,0,0,0,0,0,0,0,0,0,0,0,0,0,0,0,0,0,0,0,0}
\ET{GBF3_SRX7873327(WT:GBF3 antibody)}{cOR}{19}
\GT{GBF4_SRX7873338(WT:GBF4 antibody)}{cOR}{44,44,44,44,47,47,51,51,47,25,25,25,28,28,28,17,17,9,9,9,9,9,9,9,3,3,3,3,4,4,4,4,2,4,4,4,4,4,9,9}
\DT{GNC_SRX3739773(35S:GNC line 2 immunoprecipitate)}{cOR}{7,6,6,6,8,8,8,9,8,8,7,2,1,1,1,1,1,2,9,7,5,4,6,6,6,4,5,6,6,8,7,6,6,6,6,5,4,4,3,1}
\DT{GNC_SRX3739775(35S:GNC line 1 immunoprecipitate)}{cOR}{8,8,8,9,9,9,9,7,7,7,7,6,5,4,5,5,4,4,4,3,2,2,1,1,1,1,1,1,1,2,2,2,2,2,2,3,4,4,4,4}
\GT{GRF1_SRX5507863(GRF1-GFP Rep 3)}{cOR}{45,45,51,44,44,44,42,42,44,39,25,23,23,24,24,24,23,23,18,18,20,18,15,12,12,14,14,14,10,10,10,9,4,3,3,1,1,1,1,1}
\DT{GRF3_SRX5507865(GRF3-GFP Rep 2)}{cOR}{9,9,9,8,8,8,8,9,9,9,9,8,7,6,3,3,3,2,1,1,1,1,1,1,1,1,1,1,1,0,0,0,1,1,1,1,1,1,1,1}
\GT{GRF3_SRX5507866(GRF3-GFP Rep 3)}{cOR}{51,51,51,48,49,48,51,49,44,44,44,37,37,32,32,32,30,27,18,12,6,6,6,6,4,4,1,1,1,1,1,1,1,1,1,1,0,0,0,0}
\GT{HAT3_SRX875470(HAT3-1_ChIPSeq)}{cOR}{12,12,12,11,2,2,8,8,8,5,5,5,12,18,16,16,22,22,22,22,25,20,20,23,31,25,25,33,40,51,51,45,45,45,45,45,48,48,48,48}
\GT{HSFA1b_SRX2024335(NP:HSFA1b_NS_rep1)}{cOR}{30,16,16,16,16,10,1,0,0,0,0,0,0,0,0,0,0,0,1,10,10,10,10,10,10,16,16,16,16,16,16,20,20,20,20,20,50,50,45,36}
\GT{HSFA1b_SRX2024336(NP:HSFA1b_NS_rep2)}{cOR}{40,45,50,50,50,50,50,45,45,45,45,45,45,45,45,45,45,35,21,16,16,16,11,2,6,6,6,6,11,16,6,6,16,16,16,21,25,30,30,25}
\GT{HSFA1b_SRX2024343(35S:HSFA1b_NS_rep1)}{cOR}{51,51,44,34,27,24,24,23,23,20,17,15,10,6,2,5,5,5,5,5,5,8,8,8,8,8,8,6,8,8,8,10,10,12,12,9,9,9,10,17}
\GT{HSFA1b_SRX2024344(35S:HSFA1b_NS_rep2)}{cOR}{50,50,38,50,38,26,26,26,38,13,7,20,20,20,20,13,20,20,20,7,7,13,13,2,7,2,13,2,2,20,7,1,13,20,13,1,13,13,20,20}
\GT{ICE1_SRX7719242(GFP-ICE1_ChIP)}{cOR}{0,0,0,0,0,0,0,0,51,51,51,51,51,51,51,51,51,51,51,51,51,51,51,51,51,51,51,51,51,51,51,51,51,51,51,51,51,51,51,51}
\DT{IDD4_SRX4705001(IDD4-GFP_1_IP)}{cOR}{1,1,1,1,3,3,4,4,4,7,7,9,8,8,8,8,8,8,7,7,7,5,5,5,5,5,5,6,7,5,6,3,3,3,2,3,5,5,5,4}
\DT{IDD4_SRX4705002(IDD4-GFP_3_IP)}{cOR}{1,3,2,2,1,1,1,3,1,1,1,3,2,3,3,3,3,3,3,7,7,7,7,7,9,8,8,8,8,7,8,5,5,3,3,3,3,6,5,4}
\GT{IDD4_SRX4705003(IDD4-GFP_4_IP)}{cOR}{3,3,2,3,11,21,21,21,24,21,32,35,38,46,51,51,51,51,46,40,39,39,35,35,27,26,30,29,25,31,21,18,14,10,7,7,10,13,13,24}
\GT{LEC1_SRX3638219(developing seeds_LEC1_ChIP rep1)}{cOR}{51,47,44,44,41,47,47,44,41,41,34,34,30,25,19,19,19,19,19,16,16,19,16,12,16,9,5,2,2,2,5,2,2,2,2,2,2,2,2,2}
\GT{LEC1_SRX3638221(developing seeds_LEC1_ChIP rep2)}{cOR}{51,35,40,40,45,40,24,18,7,12,12,7,7,7,12,7,2,2,2,12,12,12,18,18,18,12,12,12,18,12,18,18,18,24,18,18,18,12,12,2}
\DT{LHY_SRX3182010(LHY_IP)}{cOR}{7,7,7,7,8,7,7,8,8,9,8,8,7,7,6,6,6,5,5,4,4,3,3,3,2,2,1,1,1,0,0,0,0,0,0,0,0,0,0,0}
\DT{MED12_SRX7573312(MED12-FLAG_col_control_ChIPseq)}{cOR}{4,6,4,7,4,4,4,3,3,3,3,3,3,2,4,6,6,9,7,3,4,3,3,3,6,6,6,6,4,6,6,7,6,3,3,3,1,2,2,2}
\DT{MED12_SRX7573320(MED12-FLAG_rep1_ChIPseq)}{cOR}{9,9,9,9,9,8,9,9,9,8,7,6,6,6,5,5,5,4,4,4,4,2,2,2,2,2,2,2,2,2,2,1,1,1,1,1,1,1,1,1}
\DT{MED12_SRX7573322(MED12-FLAG_rep2_ChIPseq)}{cOR}{9,8,7,7,7,7,7,7,7,7,6,6,6,4,4,3,4,3,3,3,3,3,4,4,4,4,4,4,3,3,3,2,2,2,1,1,1,1,1,1}
\DT{MED25_SRX7445540(med25 ChIP-seq of arabidopsis)}{cOR}{1,1,1,1,1,1,1,1,1,1,4,4,4,4,4,4,6,6,6,6,6,6,5,8,8,8,8,8,9,9,6,6,6,4,4,4,3,3,4,5}
\GT{MYC2_SRX5982476(myc2_MYC2:MYC2_FLAG_untreated)}{cOR}{24,25,25,47,47,51,51,51,49,47,44,34,30,30,33,30,35,28,33,33,33,33,30,14,14,2,2,4,6,6,16,16,18,18,14,14,14,14,9,3}
\DT{MYC2_SRX6460101(MYC2_JA_2hr_ChIPseq_rep1)}{cOR}{1,2,1,1,2,1,1,1,1,1,1,1,2,5,5,5,6,6,8,8,8,8,8,9,8,9,9,8,8,8,8,8,7,4,4,4,7,5,4,4}
\GT{MYC2_SRX6460102(MYC2_JA_2hr_ChIPseq_rep2)}{cOR}{33,32,33,33,40,40,43,51,49,45,38,30,23,23,25,25,28,30,32,30,28,25,32,27,27,19,17,12,3,3,5,5,9,15,15,12,9,4,1,4}
\GT{MYC2_SRX6460103(MYC2_JA_2hr_ChIPseq_rep3)}{cOR}{4,2,9,14,27,17,24,28,32,38,35,35,39,32,28,24,23,30,41,47,50,50,51,47,35,42,35,41,39,39,46,46,38,32,30,35,35,27,12,3}
\DT{MYC2_SRX6460104(MYC2_JA_2hr_ChIPseq_rep4)}{cOR}{1,1,1,1,1,1,1,1,2,2,3,3,3,5,6,6,6,6,7,7,7,8,8,8,8,8,8,8,8,8,9,9,9,9,8,7,7,7,6,6}
\GT{MYC3_SRX6460105(MYC3_JA_2hr_ChIPseq_rep1)}{cOR}{2,2,2,5,6,6,6,6,6,9,9,9,11,15,15,18,20,25,25,25,23,25,25,20,22,22,30,36,37,37,37,49,46,42,42,49,51,49,49,49}
\GT{MYC3_SRX6460106(MYC3_JA_2hr_ChIPseq_rep2)}{cOR}{32,33,30,32,47,51,45,43,38,36,36,32,51,38,40,38,36,38,51,45,38,34,38,38,29,19,12,5,5,5,2,19,16,16,26,40,40,32,32,32}
\GT{MYC3_SRX6460107(MYC3_JA_2hr_ChIPseq_rep3)}{cOR}{13,17,13,9,4,2,2,2,3,2,2,2,2,12,12,11,15,13,15,8,5,5,17,29,36,37,39,43,50,50,44,47,44,40,35,33,31,30,29,29}
\GT{PHE1_SRX5676333(silique.gfp.wt_rep1)}{cOR}{30,27,20,6,6,4,2,10,10,6,6,8,4,4,8,8,12,12,17,12,17,14,20,35,38,36,43,36,43,43,36,35,47,51,47,48,47,47,47,47}
\GT{PHE1_SRX5676335(silique.gfp.wt_rep2)}{cOR}{2,5,11,11,20,31,36,43,43,43,46,43,23,27,31,39,43,50,50,43,43,43,49,43,43,43,31,27,23,23,27,23,23,39,46,43,36,51,46,46}
\DT{PIF7_SRX5454258(PIF7::PIF7-MYC (D108)_ZT12_27C)}{cOR}{3,3,4,3,3,2,2,2,2,2,1,1,1,1,1,1,1,1,2,2,2,2,1,1,2,4,4,5,7,8,9,9,8,8,9,9,9,8,7,7}
\DT{PIF7_SRX5454260(PIF7::PIF7-MYC (D108)_ZT8_27C)}{cOR}{2,2,2,2,1,1,2,2,1,2,1,1,1,1,1,1,1,2,2,2,2,2,2,2,4,5,4,2,5,4,5,5,7,8,7,7,9,8,9,9}
\DT{PIF7_SRX5454262(PIF7::PIF7-MYC (D108)_ZT12_27C)}{cOR}{1,1,1,1,1,2,2,2,2,2,2,2,2,2,2,2,2,2,2,2,2,3,5,6,6,3,4,4,4,3,3,5,4,5,6,7,8,8,9,9}
\GT{RBR1_SRX3531272(RBR1_ChIP_rep1)}{cOR}{2,2,8,8,15,14,20,20,19,23,21,23,27,26,30,32,39,47,45,41,39,42,34,37,28,42,38,42,47,47,50,51,45,44,31,31,27,23,23,30}
\DT{RBR1_SRX3531273(RBR1_ChIP_rep2)}{cOR}{1,1,1,1,1,1,2,1,1,1,2,2,1,1,1,1,1,2,3,3,3,4,4,4,3,4,4,4,5,7,6,7,8,8,8,8,9,8,7,8}
\DT{SE_ERX2858751(Arabidopsis Col-0 WT seedlings biorep1)}{cOR}{9,7,4,4,4,7,4,7,4,2,2,2,2,2,1,1,1,4,4,2,2,2,2,2,2,1,2,1,1,3,3,3,3,3,3,3,3,3,5,6}
\GT{SE_ERX2858752(Arabidopsis Col-0 WT seedlings biorep1)}{cOR}{51,39,26,26,26,39,26,39,26,13,13,11,24,24,11,11,24,24,11,11,11,13,13,13,13,3,13,6,6,6,17,17,17,17,17,17,17,17,30,33}
\GT{SE_ERX2858753(Arabidopsis Col-0 WT seedlings biorep1)}{cOR}{21,21,16,21,21,17,17,16,14,14,14,14,18,18,18,15,11,16,2,2,2,5,10,10,23,28,33,38,43,42,42,42,42,46,46,46,51,51,46,46}
\DT{SHL_SRX3226098(SHL ChIPSeq-1)}{cOR}{9,9,9,9,9,9,9,9,9,9,9,9,2,1,1,1,1,1,1,1,1,1,1,1,1,1,1,1,1,1,1,1,1,1,0,0,0,0,0,0}
\DT{SHL_SRX3226099(SHL ChIPSeq-2)}{cOR}{9,6,6,6,6,8,6,3,3,3,3,3,3,3,2,2,2,2,2,2,2,2,2,2,2,1,1,1,1,1,1,1,1,1,4,4,4,1,1,1}
\GT{SMXL6_SRX7187013(s678 SMXL6HA_ChIPSeq_Rep1)}{cOR}{51,48,42,38,32,35,35,32,48,35,28,32,28,28,25,25,25,11,5,2,8,18,25,42,48,45,45,45,35,35,35,21,21,21,38,45,38,42,38,48}
\DT{SMXL6_SRX7187015(s678 SMXL6HA_ChIPSeq_Rep2)}{cOR}{9,9,8,7,8,8,8,7,7,6,6,5,5,5,4,4,4,4,3,2,1,1,1,1,1,1,1,1,1,1,1,1,1,1,1,1,1,1,1,1}
\DT{SOB3_SRX5001348(SOB3-GFP ChIP replicate 1)}{cOR}{1,1,1,1,1,1,1,1,1,1,1,1,2,2,2,2,1,3,3,3,3,3,3,5,5,6,6,6,7,8,9,8,7,7,8,8,9,8,8,9}
\GT{SOB3_SRX5001349(SOB3-GFP ChIP replicate 2)}{cOR}{2,2,2,5,2,5,11,23,27,27,17,14,17,17,20,20,23,23,27,33,33,39,39,41,45,48,51,39,39,39,39,39,42,39,33,36,36,39,33,27}
\GT{SOG1_SRX3866936(IP_SOG1-3xFLAG_20min)}{cOR}{33,37,41,44,48,44,51,48,51,48,44,37,48,37,41,33,30,30,27,23,27,19,23,19,19,19,30,27,19,16,16,16,5,5,2,5,5,5,9,9}
\DT{SOG1_SRX3866937(IP_SOG1-3xFLAG_1h)}{cOR}{9,8,8,9,9,8,8,6,6,5,5,5,3,3,2,2,1,1,1,1,1,2,2,2,4,4,4,3,3,3,3,4,4,4,4,4,5,4,4,6}
\DT{SPL7-SRX250135 (SRX250135: FLAG-SPL7 ChIP-seq)}{cOR}{9,1,1,1,1,1,1,1,1,1,1,1,1,1,1,3,3,3,3,4,1,1,1,1,1,1,4,4,4,4,4,4,4,4,4,1,5,5,5,4}
\DT{SPT6L_SRX5169086(SPT6L-GFP IP rep1)}{cOR}{6,6,6,7,9,8,9,8,8,8,7,7,8,8,8,8,8,8,7,7,7,7,6,4,2,2,2,2,2,3,3,2,1,1,1,2,2,2,1,1}
\DT{SPT6L_SRX5169087(SPT6L-GFP IP rep2)}{cOR}{7,7,8,9,9,8,8,9,7,8,7,7,4,5,5,5,4,4,3,4,3,3,2,1,1,2,1,1,1,2,1,1,1,1,2,2,1,1,1,1}
\GT{STZ_SRX6460108(STZ_AIR_ChIPseq_rep1)}{cOR}{19,18,19,25,22,20,18,13,17,21,18,23,15,27,30,30,35,43,41,46,43,51,47,38,33,33,32,36,34,36,36,34,34,26,25,23,17,5,6,2}
\DT{STZ_SRX6460109(STZ_AIR_ChIPseq_rep2)}{cOR}{9,9,5,5,7,8,9,8,9,5,7,5,3,3,1,2,3,3,2,1,1,2,1,2,4,6,7,4,5,3,3,2,1,2,1,1,1,1,2,2}
\DT{STZ_SRX6460110(STZ_AIR_ChIPseq_rep3)}{cOR}{7,6,5,5,5,6,6,7,7,9,9,9,7,6,5,5,4,4,2,1,1,1,1,1,1,3,1,1,1,1,1,2,2,1,2,3,2,4,4,4}
\GT{STZ_SRX6460111(STZ_JA_2hr_ChIPseq_rep1)}{cOR}{11,8,6,4,10,10,4,2,4,24,24,22,24,24,26,19,26,29,24,19,26,29,42,35,34,45,45,49,51,47,43,37,43,37,37,37,37,34,39,49}
\GT{TCP4_SRX4168241(mTCP4_ChIP)}{cOR}{51,49,49,49,49,46,43,43,40,36,28,25,25,25,28,25,21,7,7,4,7,7,7,4,3,9,12,12,9,9,9,12,12,21,21,25,25,25,25,28}
\GT{TFL1_ERX2826885(gTFL1-1xVenus_biorep1)}{cOR}{17,13,13,13,13,13,5,2,9,13,13,21,5,5,2,2,9,13,17,17,25,25,25,33,35,35,35,49,51,44,39,27,21,25,25,25,17,21,27,23}
\GT{TFL1_ERX2826887(gTFL1-1xVenus_biorep3)}{cOR}{38,42,42,50,51,50,51,46,48,50,46,44,42,42,38,34,30,29,29,26,21,17,17,7,5,7,7,8,3,4,8,8,15,15,15,15,17,15,15,15}
\end{tikzpicture}
\end{document}
